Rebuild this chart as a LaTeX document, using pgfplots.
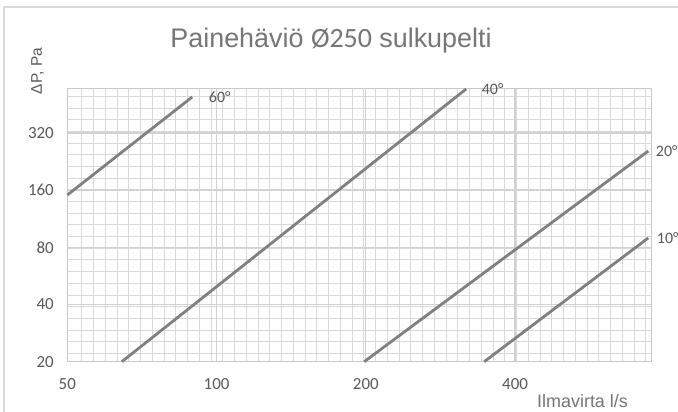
\documentclass[border=0pt]{standalone}
\usepackage{pgfplots}
\pgfplotsset{compat=1.18}
\usepackage{fontspec}
\setmainfont{Liberation Sans}
\newfontfamily\calibri{Carlito}
\definecolor{txt}{RGB}{89,89,89}
\definecolor{ttl}{RGB}{118,118,118}
\definecolor{ln}{RGB}{128,128,128}
\definecolor{mingrid}{RGB}{217,217,217}
\definecolor{majgrid}{RGB}{210,210,210}
\definecolor{frame}{RGB}{200,200,200}
\tikzset{lbl/.style={anchor=west, text=txt, font=\calibri\fontsize{16}{18}\selectfont}}
\begin{document}
\begin{tikzpicture}[x=1bp,y=1bp]
\useasboundingbox (0,0) rectangle (678,411);
\fill[white] (0,0) rectangle (678,411);
\draw[mingrid, line width=1.2bp] (4,-5) -- (4,404) -- (690,404);
% uniform background grid
\foreach \k in {0,...,48} \draw[mingrid, line width=0.9bp] ({81.7+11.75*\k}, 49.3) -- ({81.7+11.75*\k}, 322);
\foreach \k in {0,...,22} \draw[mingrid, line width=0.9bp] (67.3, {57.7+11.67*\k}) -- (651, {57.7+11.67*\k});
\begin{axis}[
  at={(67.3bp,49.3bp)}, anchor=south west,
  width=583.7bp, height=272.7bp, scale only axis,
  xmode=log, ymode=log, log basis x=2, log basis y=2,
  xmin=50, xmax=752, ymin=20, ymax=545,
  xtick={50,100,200,400}, xticklabels={50,100,200,400},
  ytick={20,40,80,160,320}, yticklabels={20,40,80,160,320},
  grid=major, major grid style={draw=majgrid, line width=1.3bp},
  major tick length=0pt, minor tick length=0pt,
  axis line style={draw=frame, line width=1bp},
  ticklabel style={font=\calibri\fontsize{17}{20}\selectfont, text=txt},
  xticklabel style={yshift=-13bp},
  yticklabel style={xshift=-10bp},
  clip=false,
]
\addplot[draw=ln, line width=2.8bp, line cap=butt, no markers] coordinates {(50,150.8) (89.3,494.6)}
  node[pos=1, lbl, xshift=12bp] {60°};
\addplot[draw=ln, line width=2.8bp, line cap=butt, no markers] coordinates {(64.4,20) (318.7,545)}
  node[pos=1, lbl, xshift=11bp] {40°};
\addplot[draw=ln, line width=2.8bp, line cap=butt, no markers] coordinates {(198.5,20) (742.4,257)}
  node[pos=1, lbl, xshift=3bp] {20°};
\addplot[draw=ln, line width=2.8bp, line cap=butt, no markers] coordinates {(346.5,20) (742.4,89.6)}
  node[pos=1, lbl, xshift=4bp] {10°};
\end{axis}
\node[anchor=base, text=ttl, inner sep=0pt] at (331,364) {\fontsize{27}{30}\selectfont Painehäviö {\calibri\fontsize{28}{30}\selectfont Ø250} sulkupelti};
\node[rotate=90, text=txt, inner sep=0pt] at (37.5,340) {\fontsize{15.5}{18}\selectfont ΔP, Pa};
\node[anchor=base west, text=ttl, inner sep=0pt] at (537,4) {\fontsize{18}{20}\selectfont Ilmavirta l/s};
\end{tikzpicture}
\end{document}
